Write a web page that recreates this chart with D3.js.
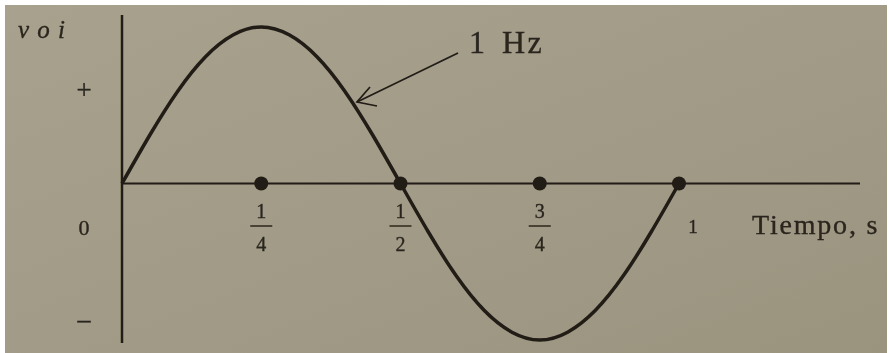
<!DOCTYPE html>
<html>
<head>
<meta charset="utf-8">
<script src="https://cdn.jsdelivr.net/npm/d3@7"></script>
<style>
  html, body { margin: 0; padding: 0; background: #ffffff; }
  svg { display: block; }
  text { font-family: "Liberation Serif", "DejaVu Serif", serif; fill: #2a251d; stroke: #2a251d; stroke-width: 0.35; }
</style>
</head>
<body>
<svg id="chart" width="889" height="353"></svg>
<script>
// One full cycle of a 1 Hz signal, sampled every 1/20 s
const times  = [0, 0.05, 0.10, 0.15, 0.20, 0.25, 0.30, 0.35, 0.40, 0.45, 0.50,
                0.55, 0.60, 0.65, 0.70, 0.75, 0.80, 0.85, 0.90, 0.95, 1.00];
const values = [0, 0.31, 0.59, 0.81, 0.95, 1.00, 0.95, 0.81, 0.59, 0.31, 0,
                -0.31, -0.59, -0.81, -0.95, -1.00, -0.95, -0.81, -0.59, -0.31, 0];

// Marked instants on the time axis
const markTimes = [0.25, 0.5, 0.75, 1];
const fractionTicks = [
  { t: 0.25, num: "1", den: "4" },
  { t: 0.5,  num: "1", den: "2" },
  { t: 0.75, num: "3", den: "4" }
];
const wholeTicks = [{ t: 1, label: "1" }];
const levelLabels = [
  { v: 0.60, label: "+", size: 27 },
  { v: -0.28, label: "0", size: 22 },
  { v: -0.87, label: "\u2013", size: 26 }
];
const yTitle = "v o i";
const xTitle = "Tiempo, s";
const freqLabel = "1 Hz";

const ink = "#201b14";
const svg = d3.select("#chart");

// Paper
const defs = svg.append("defs");
const grad = defs.append("linearGradient").attr("id", "paper")
  .attr("x1", "0").attr("y1", "0").attr("x2", "1").attr("y2", "1");
grad.append("stop").attr("offset", "0").attr("stop-color", "#a7a18e");
grad.append("stop").attr("offset", "0.5").attr("stop-color", "#a19b88");
grad.append("stop").attr("offset", "1").attr("stop-color", "#9a947f");
defs.append("filter").attr("id", "soft")
  .append("feGaussianBlur").attr("stdDeviation", 0.45);
svg.append("rect").attr("x", 5).attr("y", 5).attr("width", 882).attr("height", 348)
  .attr("fill", "url(#paper)");

const g = svg.append("g").attr("filter", "url(#soft)");

const x = d3.scaleLinear().domain([0, 1]).range([122, 679]);
const y = d3.scaleLinear().domain([-1, 1]).range([340, 27]);

// Axes
g.append("line")
  .attr("x1", x(0)).attr("x2", x(0)).attr("y1", 15).attr("y2", 343)
  .attr("stroke", ink).attr("stroke-width", 2.5);
g.append("line")
  .attr("x1", x(0)).attr("x2", 860).attr("y1", y(0)).attr("y2", y(0))
  .attr("stroke", ink).attr("stroke-width", 2.1);

// Waveform
const pts = times.map((t, i) => [t, values[i]]);
const line = d3.line().x(d => x(d[0])).y(d => y(d[1])).curve(d3.curveNatural);
g.append("path").datum(pts)
  .attr("d", line)
  .attr("fill", "none").attr("stroke", ink).attr("stroke-width", 3.5)
  .attr("stroke-linejoin", "round");

// Dots on the time axis
g.selectAll("circle.mark").data(markTimes).join("circle")
  .attr("class", "mark")
  .attr("cx", d => x(d)).attr("cy", y(0)).attr("r", 7)
  .attr("fill", ink);

// Fraction tick labels
const fr = g.selectAll("g.frac").data(fractionTicks).join("g")
  .attr("class", "frac")
  .attr("transform", d => `translate(${x(d.t)},0)`);
fr.append("text").attr("y", 218).attr("text-anchor", "middle")
  .attr("font-size", 20).text(d => d.num);
fr.append("line").attr("x1", -11).attr("x2", 11).attr("y1", 226).attr("y2", 226)
  .attr("stroke", ink).attr("stroke-width", 1.4);
fr.append("text").attr("y", 251).attr("text-anchor", "middle")
  .attr("font-size", 20).text(d => d.den);

g.selectAll("text.whole").data(wholeTicks).join("text")
  .attr("class", "whole")
  .attr("x", d => x(d.t) + 14).attr("y", 233).attr("text-anchor", "middle")
  .attr("font-size", 19).text(d => d.label);

// Level labels on the left
g.selectAll("text.level").data(levelLabels).join("text")
  .attr("class", "level")
  .attr("x", 84).attr("y", d => y(d.v)).attr("text-anchor", "middle")
  .attr("dominant-baseline", "central")
  .attr("font-size", d => d.size).text(d => d.label);

// Titles
g.append("text").attr("x", 18).attr("y", 38)
  .attr("font-size", 25).attr("font-style", "italic")
  .attr("letter-spacing", 1).text(yTitle);
g.append("text").attr("x", 752).attr("y", 234)
  .attr("font-size", 28).attr("letter-spacing", 1.8).text(xTitle);

// Frequency label with arrow pointing at the curve
g.append("text").attr("x", 469).attr("y", 53)
  .attr("font-size", 32).attr("letter-spacing", 2.5).attr("word-spacing", 4)
  .text(freqLabel);
const tip = [357, 102];
g.append("line")
  .attr("x1", 458).attr("y1", 53).attr("x2", tip[0]).attr("y2", tip[1])
  .attr("stroke", ink).attr("stroke-width", 1.7);
g.append("path")
  .attr("d", `M370,87 L${tip[0]},${tip[1]} L377,106`)
  .attr("fill", "none").attr("stroke", ink).attr("stroke-width", 1.7)
  .attr("stroke-linejoin", "miter");
</script>
</body>
</html>
